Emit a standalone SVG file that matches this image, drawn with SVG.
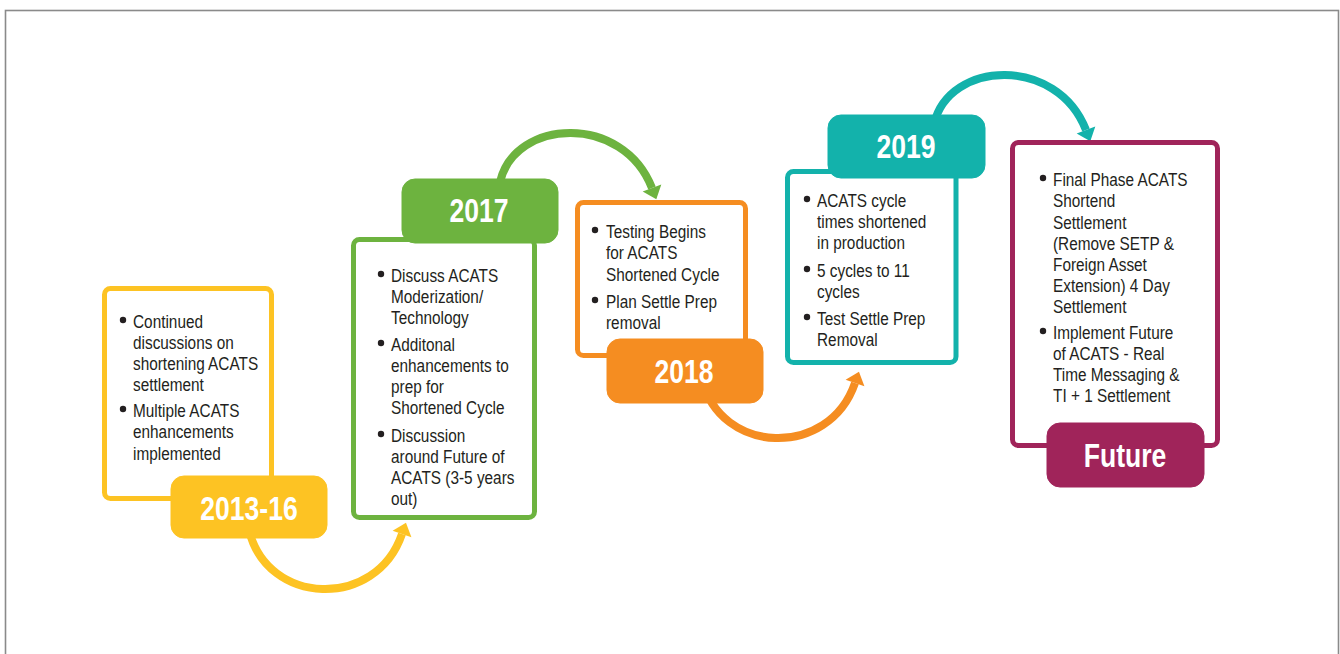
<svg xmlns="http://www.w3.org/2000/svg" width="1340" height="654" viewBox="0 0 1340 654">
<style>
.frame{fill:none;stroke:#8a8a8a;stroke-width:1.6}
.box{fill:#fff;stroke-width:5}
.lab{stroke:none}
.title{font-family:"Liberation Sans",Arial,sans-serif;font-weight:bold;font-size:34px;fill:#fff;text-anchor:middle}
.body{font-family:"Liberation Sans",Arial,sans-serif;font-size:18.5px;fill:#231f20}
.dot{fill:#231f20}
.arc{fill:none;stroke-width:8}
.y{stroke:#fdc323;fill:#fdc323}
.g{stroke:#6db33f;fill:#6db33f}
.o{stroke:#f58d21;fill:#f58d21}
.t{stroke:#13b2ab;fill:#13b2ab}
.m{stroke:#a0245a;fill:#a0245a}
</style>
<rect class="frame" x="5.5" y="10.5" width="1333" height="700"/>
<g id="connectors">
  <path class="arc y" style="fill:none" d="M249 530 C267 606 376 610 402 534"/>
  <polygon class="y" style="stroke:none" points="406,522.7 411.4,537.3 392.6,530.7"/>
  <path class="arc g" style="fill:none" d="M500 182 C515 118 623 113.4 652 188"/>
  <polygon class="g" style="stroke:none" points="656.3,199.2 661.3,184.4 642.7,191.6"/>
  <path class="arc o" style="fill:none" d="M702 379 C720 455 829 459 855 383"/>
  <polygon class="o" style="stroke:none" points="859,371.7 864.4,386.3 845.6,379.7"/>
  <path class="arc t" style="fill:none" d="M934 124 C949 60 1057 55.4 1086 130"/>
  <polygon class="t" style="stroke:none" points="1090.3,141.2 1095.3,126.4 1076.7,133.6"/>
</g>
<g id="node-2013-16">
  <rect class="box y" style="fill:#fff" x="104.5" y="288.5" width="167" height="210" rx="6"/>
  <rect class="lab y" x="171" y="476" width="156" height="62" rx="13"/>
  <text class="title" transform="translate(249,520) scale(0.78,1)">2013-16</text>
  <circle class="dot" cx="123" cy="320" r="3.2"/>
  <circle class="dot" cx="123" cy="409" r="3.2"/>
  <g transform="translate(133,0) scale(0.83,1)">
    <text class="body"><tspan x="0" y="328">Continued</tspan><tspan x="0" y="349">discussions on</tspan><tspan x="0" y="370">shortening ACATS</tspan><tspan x="0" y="391">settlement</tspan></text>
    <text class="body"><tspan x="0" y="417">Multiple ACATS</tspan><tspan x="0" y="438.5">enhancements</tspan><tspan x="0" y="460">implemented</tspan></text>
  </g>
</g>
<g id="node-2017">
  <rect class="box g" style="fill:#fff" x="353.5" y="239.5" width="181" height="278" rx="6"/>
  <rect class="lab g" x="402" y="179" width="156" height="64" rx="13"/>
  <text class="title" transform="translate(479,222) scale(0.78,1)">2017</text>
  <circle class="dot" cx="381" cy="274" r="3.2"/>
  <circle class="dot" cx="381" cy="343" r="3.2"/>
  <circle class="dot" cx="381" cy="434" r="3.2"/>
  <g transform="translate(391,0) scale(0.83,1)">
    <text class="body"><tspan x="0" y="282">Discuss ACATS</tspan><tspan x="0" y="303">Moderization/</tspan><tspan x="0" y="324">Technology</tspan></text>
    <text class="body"><tspan x="0" y="351">Additonal</tspan><tspan x="0" y="372">enhancements to</tspan><tspan x="0" y="393">prep for</tspan><tspan x="0" y="414">Shortened Cycle</tspan></text>
    <text class="body"><tspan x="0" y="442">Discussion</tspan><tspan x="0" y="463">around Future of</tspan><tspan x="0" y="484">ACATS (3-5 years</tspan><tspan x="0" y="505">out)</tspan></text>
  </g>
</g>
<g id="node-2018">
  <rect class="box o" style="fill:#fff" x="577.5" y="202.5" width="168" height="153" rx="6"/>
  <rect class="lab o" x="607" y="339" width="156" height="64" rx="13"/>
  <text class="title" transform="translate(684,383) scale(0.78,1)">2018</text>
  <circle class="dot" cx="595" cy="230" r="3.2"/>
  <circle class="dot" cx="595" cy="300" r="3.2"/>
  <g transform="translate(606,0) scale(0.83,1)">
    <text class="body"><tspan x="0" y="238">Testing Begins</tspan><tspan x="0" y="259.5">for ACATS</tspan><tspan x="0" y="281">Shortened Cycle</tspan></text>
    <text class="body"><tspan x="0" y="308">Plan Settle Prep</tspan><tspan x="0" y="329">removal</tspan></text>
  </g>
</g>
<g id="node-2019">
  <rect class="box t" style="fill:#fff" x="787.5" y="171.5" width="168.5" height="191" rx="6"/>
  <rect class="lab t" x="828" y="115" width="157" height="63" rx="13"/>
  <text class="title" transform="translate(906,158) scale(0.78,1)">2019</text>
  <circle class="dot" cx="807" cy="199" r="3.2"/>
  <circle class="dot" cx="807" cy="269" r="3.2"/>
  <circle class="dot" cx="807" cy="317" r="3.2"/>
  <g transform="translate(817,0) scale(0.83,1)">
    <text class="body"><tspan x="0" y="207">ACATS cycle</tspan><tspan x="0" y="228">times shortened</tspan><tspan x="0" y="249">in production</tspan></text>
    <text class="body"><tspan x="0" y="277">5 cycles to 11</tspan><tspan x="0" y="298">cycles</tspan></text>
    <text class="body"><tspan x="0" y="325">Test Settle Prep</tspan><tspan x="0" y="346">Removal</tspan></text>
  </g>
</g>
<g id="node-future">
  <rect class="box m" style="fill:#fff" x="1012.5" y="142.5" width="205" height="303" rx="6"/>
  <rect class="lab m" x="1047" y="423" width="157" height="64" rx="13"/>
  <text class="title" transform="translate(1125,467) scale(0.78,1)">Future</text>
  <circle class="dot" cx="1043" cy="178" r="3.2"/>
  <circle class="dot" cx="1043" cy="331" r="3.2"/>
  <g transform="translate(1053,0) scale(0.83,1)">
    <text class="body"><tspan x="0" y="186">Final Phase ACATS</tspan><tspan x="0" y="207.5">Shortend</tspan><tspan x="0" y="229">Settlement</tspan><tspan x="0" y="250">(Remove SETP &amp;</tspan><tspan x="0" y="271">Foreign Asset</tspan><tspan x="0" y="292">Extension) 4 Day</tspan><tspan x="0" y="313">Settlement</tspan></text>
    <text class="body"><tspan x="0" y="339">Implement Future</tspan><tspan x="0" y="360">of ACATS - Real</tspan><tspan x="0" y="381">Time Messaging &amp;</tspan><tspan x="0" y="402">TI + 1 Settlement</tspan></text>
  </g>
</g>
</svg>
